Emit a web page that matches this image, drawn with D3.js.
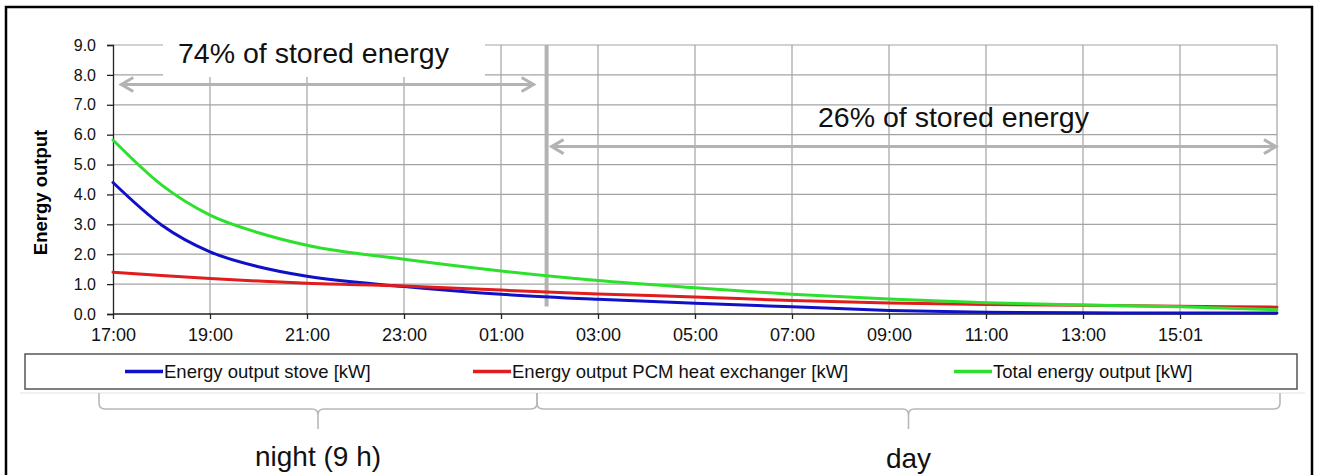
<!DOCTYPE html>
<html><head><meta charset="utf-8">
<script src="https://cdn.jsdelivr.net/npm/d3@7"></script>
<style>html,body{margin:0;padding:0;background:#fff}svg{display:block}text{font-family:"Liberation Sans",Arial,sans-serif}</style>
</head><body><svg id="c" width="1317" height="475"></svg>
<script>
// ---- data ----
const hours = [0, 1, 2, 3, 4, 6, 8, 10, 12, 14, 16, 18, 20, 22, 24];
const stove = [4.40, 2.98, 2.08, 1.58, 1.26, 0.92, 0.66, 0.49, 0.36, 0.24, 0.12, 0.06, 0.04, 0.03, 0.03];
const pcm   = [1.40, 1.29, 1.19, 1.10, 1.03, 0.94, 0.80, 0.67, 0.57, 0.45, 0.37, 0.32, 0.29, 0.26, 0.23];
const total = [5.82, 4.32, 3.31, 2.72, 2.30, 1.83, 1.44, 1.12, 0.88, 0.66, 0.50, 0.38, 0.30, 0.24, 0.14];
const tickHours = [0, 2, 4, 6, 8, 10, 12, 14, 16, 18, 20, 22];
const tickLabels = ["17:00","19:00","21:00","23:00","01:00","03:00","05:00","07:00","09:00","11:00","13:00","15:01"];
const yTicks = [0,1,2,3,4,5,6,7,8,9];
const seriesNames = ["Energy output stove [kW]", "Energy output PCM heat exchanger [kW]", "Total energy output  [kW]"];
const seriesColors = ["#1010c8", "#e01c1c", "#2ee02e"];
const nightEnd = 8.94;      // hours after 17:00
const pctNight = "74% of stored energy";
const pctDay = "26% of stored energy";
const braceLabels = ["night (9 h)", "day"];

// ---- layout ----
const svg = d3.select("#c");
const x = d3.scaleLinear().domain([0, 24]).range([113, 1277]);
const y = d3.scaleLinear().domain([0, 9]).range([314, 45]);

// outer border
svg.append("rect").attr("x", 6).attr("y", 7).attr("width", 1306).attr("height", 480)
  .attr("fill", "none").attr("stroke", "#000").attr("stroke-width", 2.5);

// grid
const grid = svg.append("g").attr("stroke", "#a3a3a3").attr("stroke-width", 1.2);
yTicks.filter(d => d > 0).forEach(d => {
  grid.append("line").attr("x1", x(0)).attr("x2", x(24)).attr("y1", y(d)).attr("y2", y(d));
});
tickHours.concat([24]).filter(d => d > 0).forEach(d => {
  grid.append("line").attr("x1", x(d)).attr("x2", x(d)).attr("y1", y(9)).attr("y2", y(0));
});

// white box behind the 74% label
svg.append("rect").attr("x", 163).attr("y", 30).attr("width", 322).attr("height", 47).attr("fill", "#fff");

// axes
const yAxis = d3.axisLeft(y).tickValues(yTicks).tickFormat(d3.format(".1f")).tickSize(6).tickPadding(11);
const gy = svg.append("g").attr("transform", `translate(${x(0)},0)`).call(yAxis);
gy.select(".domain").attr("stroke", "#222").attr("stroke-width", 1.3);
gy.selectAll(".tick line").attr("stroke", "#222").attr("stroke-width", 1.3);
gy.selectAll("text").attr("font-size", 16).attr("fill", "#111").style("font-family", "Liberation Sans, Arial");

const xAxis = d3.axisBottom(x).tickValues(tickHours).tickFormat((d, i) => tickLabels[i]).tickSize(5).tickPadding(9);
const gx = svg.append("g").attr("transform", `translate(0,${y(0)})`).call(xAxis);
gx.select(".domain").attr("stroke", "#222").attr("stroke-width", 1.3).attr("d", `M${x(0)},0H${x(24)}`);
gx.selectAll(".tick line").attr("stroke", "#222").attr("stroke-width", 1.3);
gx.selectAll("text").attr("font-size", 18).attr("fill", "#111").style("font-family", "Liberation Sans, Arial");

// y title
svg.append("text").attr("transform", `translate(47,${(y(0)+y(9))/2 + 13}) rotate(-90)`)
  .attr("text-anchor", "middle").attr("font-size", 18.5).attr("font-weight", "bold").attr("fill", "#000")
  .text("Energy output");

// separator
const gray = "#b3b3b3";
svg.append("line").attr("x1", x(nightEnd)).attr("x2", x(nightEnd)).attr("y1", y(9)).attr("y2", y(0.25))
  .attr("stroke", gray).attr("stroke-width", 4);

// arrows
function arrow(x1, x2, yy) {
  const g = svg.append("g").attr("stroke", gray).attr("stroke-width", 3).attr("fill", "none");
  g.append("line").attr("x1", x1 + 1).attr("x2", x2 - 1).attr("y1", yy).attr("y2", yy);
  g.append("path").attr("d", `M${x1 + 13},${yy - 7}L${x1 + 1},${yy}L${x1 + 13},${yy + 7}`);
  g.append("path").attr("d", `M${x2 - 13},${yy - 7}L${x2 - 1},${yy}L${x2 - 13},${yy + 7}`);
}
arrow(x(0.15), x(nightEnd) - 12, y(7.68));
arrow(x(nightEnd) + 4, x(24), y(5.6));

svg.append("text").attr("x", 178).attr("y", 63).attr("font-size", 28.5).attr("fill", "#111").text(pctNight);
svg.append("text").attr("x", 818).attr("y", 127).attr("font-size", 28.5).attr("fill", "#111").text(pctDay);

// lines
const data = [stove, pcm, total];
const line = d3.line().x((d, i) => x(hours[i])).y(d => y(d)).curve(d3.curveMonotoneX);
data.forEach((s, k) => {
  svg.append("path").datum(s).attr("d", line).attr("fill", "none")
    .attr("stroke", seriesColors[k]).attr("stroke-width", 3).attr("stroke-linecap", "round");
});

// legend
svg.append("line").attr("x1", 20).attr("x2", 1305).attr("y1", 393).attr("y2", 393).attr("stroke", "#ececec").attr("stroke-width", 1.5);
svg.append("rect").attr("x", 25).attr("y", 354).attr("width", 1272).attr("height", 35)
  .attr("fill", "#fff").attr("stroke", "#555").attr("stroke-width", 1.5);
const legX = [125, 473, 954];
seriesNames.forEach((n, k) => {
  svg.append("line").attr("x1", legX[k]).attr("x2", legX[k] + 38).attr("y1", 371.5).attr("y2", 371.5)
    .attr("stroke", seriesColors[k]).attr("stroke-width", 3.5);
  svg.append("text").attr("x", legX[k] + 39).attr("y", 378).attr("font-size", 18.5).attr("fill", "#111").text(n);
});

// braces
function brace(x1, x2) {
  const mid = (x1 + x2) / 2, top = 393, hy = 409, r = 6;
  const d = `M${x1},${top}V${hy - r}Q${x1},${hy} ${x1 + r},${hy}H${mid - 6}Q${mid},${hy} ${mid},${hy + 6}V${hy + 20}` +
            `M${mid},${hy + 6}Q${mid},${hy} ${mid + 6},${hy}H${x2 - r}Q${x2},${hy} ${x2},${hy - r}V${top}`;
  svg.append("path").attr("d", d).attr("fill", "none").attr("stroke", "#b8b8b8").attr("stroke-width", 1.6);
  return mid;
}
const m1 = brace(99, 537);
const m2 = brace(537, 1280);
svg.append("text").attr("x", m1).attr("y", 466).attr("text-anchor", "middle").attr("font-size", 28).attr("fill", "#111").text(braceLabels[0]);
svg.append("text").attr("x", m2).attr("y", 468).attr("text-anchor", "middle").attr("font-size", 28).attr("fill", "#111").text(braceLabels[1]);
</script></body></html>
